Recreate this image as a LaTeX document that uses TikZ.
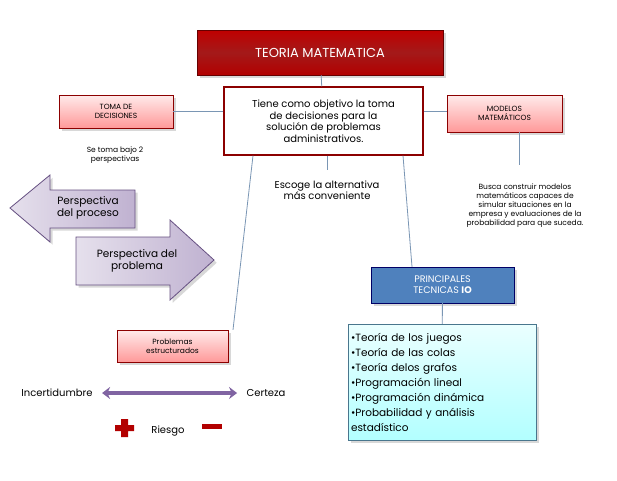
\documentclass[tikz,border=0pt]{standalone}
\usepackage{fontspec}
\setmainfont{Poppins}
\usetikzlibrary{shadows,arrows.meta,calc}
\definecolor{ln}{HTML}{7A96B4}
\definecolor{pur}{HTML}{8064A2}
\definecolor{blu}{HTML}{4F81BD}
\tikzset{
  con/.style={draw=ln,line width=0.8pt},
  pinkbox/.style={draw=red!55!black,top color=red!8,bottom color=red!40!white,drop shadow={opacity=0.3},align=center,font=\fontsize{7.5}{8.5}\selectfont,inner sep=2pt},
  txt/.style={align=center,font=\fontsize{7.5}{9}\selectfont},
  parr/.style={draw=pur!80!black,left color=pur!20,right color=pur!50,drop shadow={opacity=0.3},line width=0.8pt},
  arrtxt/.style={align=center,font=\fontsize{10.5}{12}\selectfont}
}
\begin{document}
\begin{tikzpicture}[x=1pt,y=-1pt]
\useasboundingbox (0,0) rectangle (617,480);
\fill[white] (0,0) rectangle (617,480);
% title
\node[draw=red!40!black,top color=red!75!black,bottom color=red!70!black,middle color=red!60!black!90!white,drop shadow={opacity=0.3},minimum width=246pt,minimum height=45pt,text=white,font=\fontsize{13}{15}\selectfont] (title) at (320,52.5) {TEORIA MATEMATICA};
\node[draw=red!55!black,line width=1.2pt,fill=white,minimum width=199pt,minimum height=68pt,align=center,font=\fontsize{10}{11.5}\selectfont,inner sep=1pt] (cen) at (323.5,121) {Tiene como objetivo la toma\\de decisiones para la\\solución de problemas\\administrativos.};
\node[pinkbox,minimum width=114pt,minimum height=33pt] (toma) at (116,111.5) {TOMA DE\\DECISIONES};
\node[pinkbox,minimum width=115pt,minimum height=37pt] (mod) at (504.5,113.5) {MODELOS\\MATEMÁTICOS};
\node[txt] (se) at (115,155) {Se toma bajo 2\\perspectivas};
\node[align=center,font=\fontsize{10}{11}\selectfont] (esc) at (327,190) {Escoge la alternativa\\más conveniente};
\node[txt] (busca) at (525,206) {Busca construir modelos\\matemáticos capaces de\\simular situaciones en la\\empresa y evaluaciones de la\\probabilidad para que suceda.};
% arrows
\path[parr] (10,208) -- (50,175) -- (50,190) -- (135,190) -- (135,228) -- (50,228) -- (50,242) -- cycle;
\node[arrtxt] (pp) at (88,208) {Perspectiva\\del proceso};
\path[parr] (214,260) -- (170,220) -- (170,237) -- (76,237) -- (76,285) -- (170,285) -- (170,300) -- cycle;
\node[arrtxt] (pb) at (137,261) {Perspectiva del\\problema};
\node[draw=blue!40!black,fill=blu,text=white,minimum width=143pt,minimum height=36pt,align=center,font=\fontsize{9.5}{11}\selectfont,drop shadow={opacity=0.3}] (pri) at (442.5,285) {PRINCIPALES\\TECNICAS \textbf{IO}};
\node[draw=cyan!50!black,top color=cyan!8,bottom color=cyan!30,drop shadow={opacity=0.3},minimum width=188pt,minimum height=116pt,align=left,text width=182pt,font=\fontsize{10.5}{15}\selectfont,inner sep=3pt] (lst) at (442,382) {•Teoría de los juegos\\•Teoría de las colas\\•Teoría delos grafos\\•Programación lineal\\•Programación dinámica\\•Probabilidad y análisis\\estadístico};
\node[pinkbox,minimum width=111pt,minimum height=32pt] (pe) at (172.5,346) {Problemas\\estructurados};
\node[font=\fontsize{10}{11}\selectfont] (inc) at (57,393) {Incertidumbre};
\node[font=\fontsize{10}{11}\selectfont] (cer) at (266,393) {Certeza};
\draw[pur,line width=3.5pt,{Stealth[length=8pt,width=12pt]}-{Stealth[length=8pt,width=12pt]}] ($(inc.east)+(6,0)$) -- ($(cer.west)+(-6,0)$);
\node[font=\fontsize{10}{11}\selectfont] (rie) at (168,431) {Riesgo};
\fill[red!70!black] (121,419) rectangle (128,437) (115,425) rectangle (134,431);
\fill[red!70!black] (202,424) rectangle (222,429);
% connectors
\draw[con] (title) -- (cen);
\draw[con] (cen.west|-toma) -- (toma);
\draw[con] (cen.east|-toma) -- (mod.west|-toma);
\draw[con] (mod.south-|519,0) -- (519,165);
\draw[con] (cen.south-|327,0) -- (327,170);
\draw[con] (cen.south-|253,0) -- (pe.north-|233,0);
\draw[con] (cen.south-|403,0) -- (pri.north-|412,0);
\draw[con] (pri) -- (lst);
\end{tikzpicture}
\end{document}
